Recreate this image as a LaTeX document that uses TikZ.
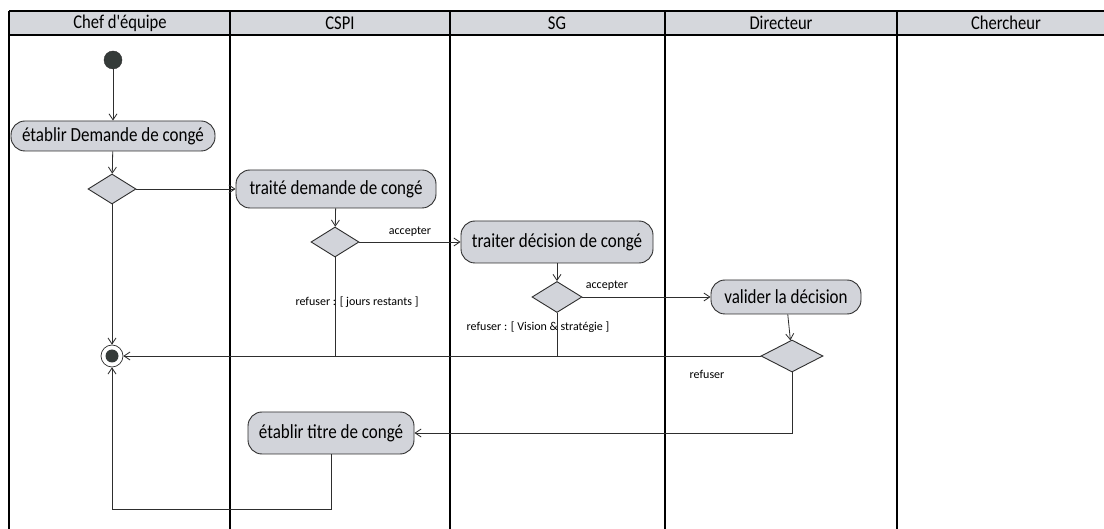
\documentclass[tikz,border=0pt]{standalone}
\usepackage{fontspec}
\setmainfont{Carlito}
\newfontfamily\narrowfont[FakeStretch=0.85]{Carlito}
\usetikzlibrary{shapes.geometric,arrows.meta,calc}

\definecolor{lanefill}{HTML}{D5D7DC}
\definecolor{actfill}{HTML}{D2D4DA}
\definecolor{ink}{HTML}{2E2E2E}
\definecolor{startdot}{HTML}{353B39}

\begin{document}
\begin{tikzpicture}[x=1pt,y=-1pt,
  lanetitle/.style={font=\narrowfont\fontsize{19.5}{22}\selectfont, inner sep=0pt},
  activity/.style={draw=ink, line width=0.9pt, fill=actfill, rounded corners=14pt,
    font=\narrowfont\fontsize{20}{23}\selectfont, inner sep=0pt},
  decision/.style={diamond, draw=ink, line width=0.9pt, fill=actfill, inner sep=0pt,
    minimum width=48pt, minimum height=30pt},
  startnode/.style={circle, fill=startdot, draw=ink, minimum size=18pt, inner sep=0pt},
  endnode/.style={circle, draw=ink, line width=0.7pt, fill=white, minimum size=22pt, inner sep=0pt,
    path picture={\fill[startdot] (path picture bounding box.center) circle (6.5pt);}},
  flow/.style={draw=ink, line width=0.8pt, -{Straight Barb[length=6pt,width=8pt]}},
  plainflow/.style={draw=ink, line width=0.8pt},
  guard/.style={font=\fontsize{12}{14}\selectfont, inner sep=1pt},
]
\useasboundingbox (0,0) rectangle (1104,529);
\fill[white] (0,0) rectangle (1104,529);

% swimlane header band and borders
\fill[lanefill] (9,11) rectangle (1104,35);
\draw[black, line width=1.6pt] (9,11) -- (1104,11);
\draw[black, line width=1.6pt] (9,35) -- (1104,35);
\foreach \lx in {9,230,450,665,897}
  \draw[black, line width=1.6pt] (\lx,11) -- (\lx,529);

\node[lanetitle] (h1) at (120,23) {Chef d'équipe};
\node[lanetitle] (h2) at (340,23) {CSPI};
\node[lanetitle] (h3) at (557,23) {SG};
\node[lanetitle] (h4) at (781,23) {Directeur};
\node[lanetitle] (h5) at (1006,23) {Chercheur};

% activities and decisions
\node[startnode] (init) at (113,60) {};
\node[activity, minimum width=204pt, minimum height=30pt] (A1) at (113,136) {établir Demande de congé};
\node[decision] (D1) at (112,189) {};
\node[activity, minimum width=200pt, minimum height=38pt] (T) at (336,189) {traité demande de congé};
\node[decision] (D2) at (335,242) {};
\node[activity, minimum width=192pt, minimum height=42pt] (B) at (557,242) {traiter décision de congé};
\node[decision, minimum width=50pt, minimum height=31pt] (D3) at (557,297) {};
\node[activity, minimum width=150pt, minimum height=34pt] (C) at (786,297) {valider la décision};
\node[decision, minimum width=62pt, minimum height=32pt] (D4) at (792,356) {};
\node[endnode] (fin) at (112,356) {};
\node[activity, minimum width=166pt, minimum height=42pt] (E) at (331,433) {établir titre de congé};

% control flow
\draw[flow] (init) -- (A1);
\draw[flow] (A1) -- (D1);
\draw[flow] (D1.east) -- (T.west);
\draw[flow] (D1.south) -- (fin.north);
\draw[flow] (T) -- (D2);
\draw[flow] (D2.east) -- node[guard, pos=0.5, above=4pt] {accepter} (B.west);
\draw[plainflow] (D2.south) -- (D2.south |- fin);
\draw[flow] (B) -- (D3);
\draw[flow] (D3.east) -- (C.west);
\draw[plainflow] (D3.south) -- (D3.south |- fin);
\draw[flow] (C) -- (D4);
\draw[flow] (D4.west) -- (fin.east);
\draw[flow] (D4.south) |- (E.east);
\draw[flow] (E.south) -- ++(0,55) -| (fin.south);

% guards on the branches
\node[guard] (g1) at (607,286) {accepter};
\node[guard] (g2) at (357,302) {refuser : [ jours restants ]};
\node[guard] (g3) at (538,327) {refuser : [ Vision \& stratégie ]};
\node[guard] (g4) at (707,374) {refuser};
\end{tikzpicture}
\end{document}
